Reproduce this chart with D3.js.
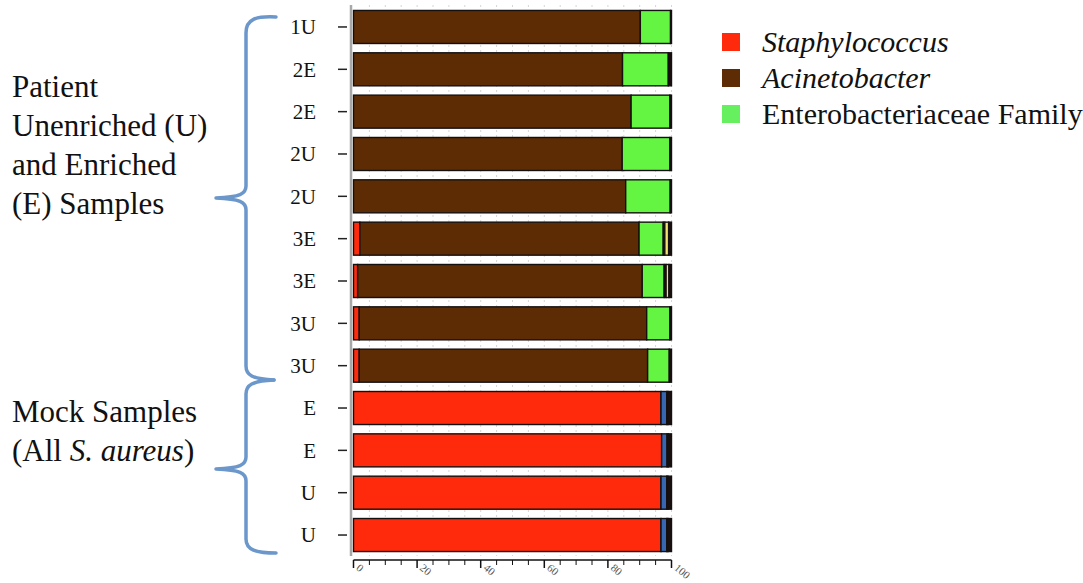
<!DOCTYPE html>
<html>
<head>
<meta charset="utf-8">
<script src="https://cdn.jsdelivr.net/npm/d3@7/dist/d3.min.js"></script>
<style>
  html, body { margin: 0; padding: 0; background: #fff; }
  svg { display: block; }
  text { font-family: "Liberation Serif", "Times New Roman", serif; fill: #111; }
</style>
</head>
<body>
<svg id="chart" width="1083" height="583" font-family="Liberation Serif, serif"></svg>
<script>
// Sample rows, top to bottom
const sampleLabels = ["1U", "2E", "2E", "2U", "2U", "3E", "3E", "3U", "3U", "E", "E", "U", "U"];

// Relative abundance (%) per genus / family, one value per sample row
const staphylococcus     = [0,    0,    0,    0,    0,    2.0,  1.3,  1.8,  1.8,  96.7, 96.9, 96.7, 96.7];
const acinetobacter      = [90.2, 84.6, 87.3, 84.5, 85.6, 87.8, 89.5, 90.4, 90.7, 0,    0,    0,    0];
const enterobacteriaceae = [9.5,  14.4, 12.2, 15.0, 14.0, 7.6,  6.9,  7.3,  6.8,  0,    0,    0,    0];
const minorDark          = [0,    0,    0,    0,    0,    0.5,  0.6,  0,    0,    0,    0,    0,    0];
const minorYellow        = [0,    0,    0,    0,    0,    1.2,  0.9,  0,    0,    0,    0,    0,    0];
const minorBlue          = [0,    0,    0,    0,    0,    0,    0,    0,    0,    1.8,  1.7,  1.8,  1.8];
const minorLilac         = [0,    0,    0,    0,    0,    0,    0,    0,    0,    0.4,  0.4,  0.4,  0.4];
const remainder          = [0.3,  1.0,  0.5,  0.5,  0.4,  0.9,  0.8,  0.5,  0.7,  1.1,  1.0,  1.1,  1.1];

// Axis ticks (percent)
const xTickValues = [0, 5, 10, 15, 20, 25, 30, 35, 40, 45, 50, 55, 60, 65, 70, 75, 80, 85, 90, 95, 100];
const xTickLabels = [0, 20, 40, 60, 80, 100];

// Legend entries (only the three named groups)
const legendNames = ["Staphylococcus", "Acinetobacter", "Enterobacteriaceae Family"];
const legendItalic = [true, true, false];

const seriesKeys = ["staph", "acin", "entero", "dark", "yellow", "blue", "lilac", "rest"];
const seriesColors = {
  staph: "#ff2a0c", acin: "#5d2c05", entero: "#63f542", dark: "#2b1530",
  yellow: "#f2e46c", blue: "#3766b2", lilac: "#b8b9d6", rest: "#1a0e0e"
};

const rows = sampleLabels.map((label, i) => ({
  idx: i, label,
  staph: staphylococcus[i], acin: acinetobacter[i], entero: enterobacteriaceae[i],
  dark: minorDark[i], yellow: minorYellow[i], blue: minorBlue[i],
  lilac: minorLilac[i], rest: remainder[i]
}));

const svg = d3.select("#chart");

const x = d3.scaleLinear().domain([0, 100]).range([353.5, 671.5]);
const y = d3.scaleBand()
  .domain(rows.map(d => d.idx))
  .range([5.8, 556.2])
  .paddingInner(0.22)
  .paddingOuter(0.11);

// light dotted grid every 5%
svg.append("g").selectAll("line")
  .data(xTickValues.slice(1))
  .join("line")
  .attr("x1", d => x(d)).attr("x2", d => x(d))
  .attr("y1", 5).attr("y2", 556)
  .attr("stroke", "#d6d6d6")
  .attr("stroke-width", 1)
  .attr("stroke-dasharray", "2,3");

// stacked bars
const stack = d3.stack().keys(seriesKeys);
const layers = stack(rows);

svg.append("g").selectAll("g")
  .data(layers)
  .join("g")
  .attr("fill", d => seriesColors[d.key])
  .selectAll("rect")
  .data(d => d.filter(s => s[1] - s[0] > 0))
  .join("rect")
  .attr("x", s => x(s[0]))
  .attr("width", s => x(s[1]) - x(s[0]))
  .attr("y", s => y(s.data.idx))
  .attr("height", y.bandwidth())
  .attr("stroke", "#141010")
  .attr("stroke-width", 1.4);

// left axis: gray spine + short dark ticks + sample labels
svg.append("line")
  .attr("x1", 351).attr("x2", 351).attr("y1", 5).attr("y2", 556)
  .attr("stroke", "#a8a8a8").attr("stroke-width", 2.5);

const yTicks = svg.append("g").selectAll("g")
  .data(rows)
  .join("g")
  .attr("transform", d => `translate(0,${y(d.idx) + y.bandwidth() / 2})`);
yTicks.append("line")
  .attr("x1", 338).attr("x2", 347)
  .attr("stroke", "#222").attr("stroke-width", 1.5);
yTicks.append("text")
  .attr("x", 316).attr("dy", "0.35em")
  .attr("text-anchor", "end")
  .attr("font-size", 21)
  .text(d => d.label);

// bottom axis
const xAxis = svg.append("g");
xAxis.append("line")
  .attr("x1", x(0)).attr("x2", x(100)).attr("y1", 560).attr("y2", 560)
  .attr("stroke", "#111").attr("stroke-width", 1.5);
xAxis.selectAll("line.tick")
  .data(xTickValues)
  .join("line")
  .attr("class", "tick")
  .attr("x1", d => x(d)).attr("x2", d => x(d))
  .attr("y1", 560).attr("y2", d => d % 20 === 0 ? 568 : 565)
  .attr("stroke", "#111").attr("stroke-width", d => d % 20 === 0 ? 1.5 : 1);
xAxis.selectAll("text")
  .data(xTickLabels)
  .join("text")
  .attr("transform", d => `translate(${x(d) + 2},${569}) rotate(40)`)
  .attr("font-size", 11)
  .style("fill", "#555")
  .text(d => d);

// group braces
const braceColor = "#6b97cb";
svg.append("path")
  .attr("d", "M 276 17 C 256 16, 246 19, 246 33 L 246 186 C 246 194, 240 197, 216 198 " +
             "C 240 199, 246 202, 246 210 L 246 366 C 246 375, 252 379, 274 380")
  .attr("fill", "none").attr("stroke", braceColor).attr("stroke-width", 3.5)
  .attr("stroke-linecap", "round").attr("stroke-linejoin", "round");
svg.append("path")
  .attr("d", "M 274 380 C 252 381, 246 385, 246 394 L 246 457 C 246 465, 240 468, 216 469 " +
             "C 240 470, 246 473, 246 481 L 246 539 C 246 550, 256 553, 276 553")
  .attr("fill", "none").attr("stroke", braceColor).attr("stroke-width", 3.5)
  .attr("stroke-linecap", "round").attr("stroke-linejoin", "round");

// group titles
const patientLines = ["Patient", "Unenriched (U)", "and Enriched", "(E) Samples"];
svg.append("g").selectAll("text")
  .data(patientLines)
  .join("text")
  .attr("x", 12)
  .attr("y", (d, i) => 97 + i * 39)
  .attr("font-size", 31)
  .text(d => d);

const mock = svg.append("g").attr("font-size", 31);
mock.append("text").attr("x", 12).attr("y", 422).text("Mock Samples");
const mock2 = mock.append("text").attr("x", 12).attr("y", 461);
mock2.append("tspan").text("(All ");
mock2.append("tspan").attr("font-style", "italic").text("S. aureus");
mock2.append("tspan").text(")");

// legend
const legendColors = [seriesColors.staph, seriesColors.acin, "#66f060"];
const legend = svg.append("g").selectAll("g")
  .data(legendNames)
  .join("g")
  .attr("transform", (d, i) => `translate(722,${33 + i * 36})`);
legend.append("rect")
  .attr("width", 18).attr("height", 18)
  .attr("fill", (d, i) => legendColors[i]);
legend.append("text")
  .attr("x", 40).attr("y", 19)
  .attr("font-size", 30)
  .attr("font-style", (d, i) => legendItalic[i] ? "italic" : "normal")
  .text(d => d);
</script>
</body>
</html>
